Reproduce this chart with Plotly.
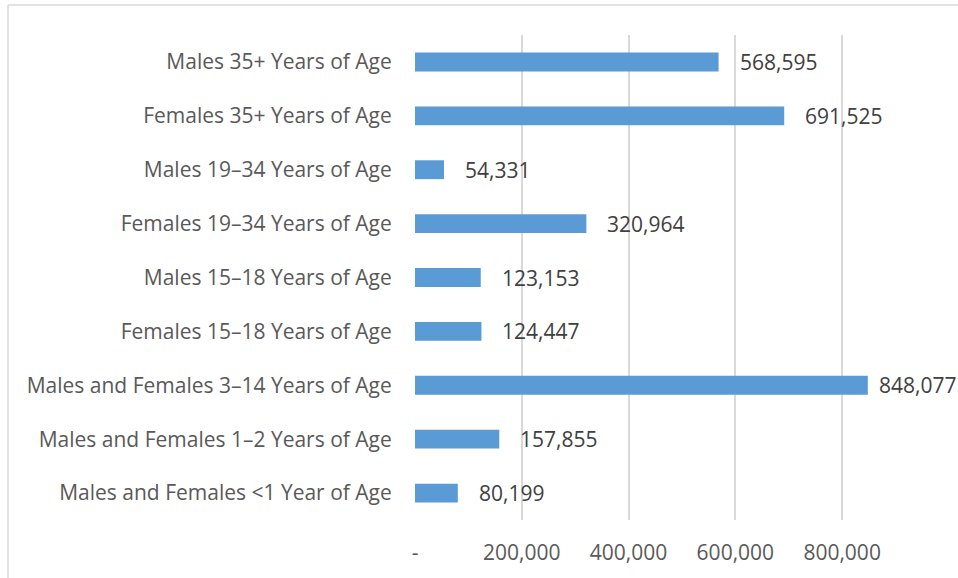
import plotly.graph_objects as go

categories = [
    "Males 35+ Years of Age",
    "Females 35+ Years of Age",
    "Males 19–34 Years of Age",
    "Females 19–34 Years of Age",
    "Males 15–18 Years of Age",
    "Females 15–18 Years of Age",
    "Males and Females 3–14 Years of Age",
    "Males and Females 1–2 Years of Age",
    "Males and Females <1 Year of Age",
]
values = [568595, 691525, 54331, 320964, 123153, 124447, 848077, 157855, 80199]
tick_vals = [0, 200000, 400000, 600000, 800000]
tick_text = ["-", "200,000", "400,000", "600,000", "800,000"]

FONT = "Open Sans"
FS = 21
TXT = "#595959"
GRID = "#d9d9d9"

L, T, R, B = 415, 35, 0, 58
W, H = 958, 578
X_MAX = 1017000
pw = W - L - R
ph = H - T - B

fig = go.Figure()
fig.add_trace(go.Bar(
    x=values, y=categories, orientation="h",
    marker=dict(color="#5B9BD5", line=dict(width=0)),
    width=0.35, hoverinfo="skip",
))

annotations = []
for c, v in zip(categories, values):
    # keep the label inside the canvas (like Excel nudging the last label)
    end_px = L + v / X_MAX * pw
    shift = 19
    label_w = 80
    if end_px + shift + label_w > W - 1:
        shift = max(4, int(W - 1 - label_w - end_px))
    annotations.append(dict(
        x=v, y=c, xref="x", yref="y", text=f"{v:,}",
        showarrow=False, xanchor="left", yanchor="middle", xshift=shift,
        font=dict(family=FONT, size=FS, color="#404040"),
    ))

def px(x):
    return (x - L) / pw

def py(y):
    return (H - B - y) / ph

shapes = [
    dict(type="line", xref="paper", yref="paper", x0=px(8), x1=px(8), y0=py(5), y1=py(600),
         line=dict(color=GRID, width=1.5)),
    dict(type="line", xref="paper", yref="paper", x0=px(8), x1=px(1000), y0=py(5), y1=py(5),
         line=dict(color=GRID, width=1.5)),
]

fig.update_layout(
    width=W, height=H,
    margin=dict(l=L, r=R, t=T, b=B, pad=0),
    paper_bgcolor="white", plot_bgcolor="white",
    showlegend=False,
    font=dict(family=FONT, size=FS, color=TXT),
    annotations=annotations,
    shapes=shapes,
)
fig.update_xaxes(
    range=[0, X_MAX], tickvals=tick_vals, ticktext=tick_text,
    showgrid=True, gridcolor=GRID, gridwidth=1.5, zeroline=False,
    showline=False, ticks="outside", ticklen=14, tickcolor="rgba(0,0,0,0)",
    tickfont=dict(family=FONT, size=FS, color=TXT),
)
fig.update_yaxes(
    autorange="reversed", showgrid=False, zeroline=False, showline=False,
    ticks="outside", ticklen=18, tickcolor="rgba(0,0,0,0)",
    tickfont=dict(family=FONT, size=FS, color=TXT),
)

fig.write_html("out.html")
